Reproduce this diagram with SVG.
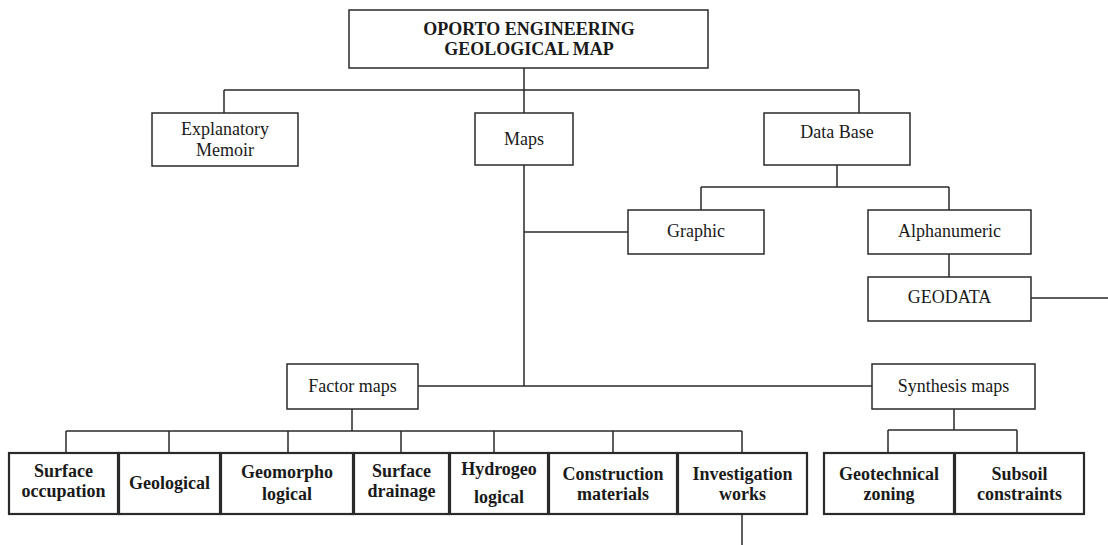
<svg xmlns="http://www.w3.org/2000/svg" width="1108" height="545" viewBox="0 0 1108 545">
  <style>
    .box { fill: #ffffff; stroke: #2a2a2a; stroke-width: 1.5; }
    .leaf { fill: #ffffff; stroke: #2a2a2a; stroke-width: 2.2; }
    .wire { fill: none; stroke: #2a2a2a; stroke-width: 1.5; }
    .lbl { font-family: "Liberation Serif", "Times New Roman", serif; font-size: 18px; fill: #1a1a1a; text-anchor: middle; }
    .bold { font-weight: bold; }
  </style>
  <rect width="1108" height="545" fill="#ffffff"/>

  <!-- connectors -->
  <g id="connectors" class="wire">
    <path d="M524 68 V90 M224 90 H859 M224 90 V113 M524 90 V113 M859 90 V113"/>
    <path d="M524 165 V386 M524 232 H628"/>
    <path d="M837 165 V187 M701 187 H949 M701 187 V210 M949 187 V210"/>
    <path d="M949 254 V277 M1031 298 H1108"/>
    <path d="M418 386 H872"/>
    <path d="M352 409 V431 M66 431 H742 M66 431 V453 M169 431 V453 M288 431 V453 M401 431 V453 M494 431 V453 M613 431 V453 M742 431 V453"/>
    <path d="M954 409 V430 M888 430 H1017 M888 430 V453 M1017 430 V453"/>
    <path d="M742 514 V545"/>
  </g>

  <g id="root">
    <rect class="box" x="349" y="10" width="359" height="58"/>
    <text class="lbl bold" x="529" y="35">OPORTO ENGINEERING</text>
    <text class="lbl bold" x="529" y="55">GEOLOGICAL MAP</text>
  </g>

  <g id="memoir">
    <rect class="box" x="152" y="113" width="146" height="53"/>
    <text class="lbl" x="225" y="135">Explanatory</text>
    <text class="lbl" x="225" y="156">Memoir</text>
  </g>

  <g id="maps">
    <rect class="box" x="475" y="113" width="98" height="52"/>
    <text class="lbl" x="524" y="145">Maps</text>
  </g>

  <g id="database">
    <rect class="box" x="764" y="113" width="146" height="52"/>
    <text class="lbl" x="837" y="138">Data Base</text>
  </g>

  <g id="graphic">
    <rect class="box" x="628" y="210" width="136" height="44"/>
    <text class="lbl" x="696" y="237">Graphic</text>
  </g>

  <g id="alphanumeric">
    <rect class="box" x="868" y="210" width="163" height="44"/>
    <text class="lbl" x="949.5" y="237">Alphanumeric</text>
  </g>

  <g id="geodata">
    <rect class="box" x="868" y="277" width="163" height="44"/>
    <text class="lbl" x="949.5" y="303">GEODATA</text>
  </g>

  <g id="factor-maps">
    <rect class="box" x="287" y="364" width="131" height="45"/>
    <text class="lbl" x="352.5" y="392">Factor maps</text>
  </g>

  <g id="synthesis-maps">
    <rect class="box" x="872" y="364" width="163" height="45"/>
    <text class="lbl" x="953.5" y="392">Synthesis maps</text>
  </g>

  <!-- factor map leaves -->
  <g id="surface-occupation">
    <rect class="leaf" x="9" y="453" width="109" height="61"/>
    <text class="lbl bold" x="63.5" y="477">Surface</text>
    <text class="lbl bold" x="63.5" y="497">occupation</text>
  </g>
  <g id="geological">
    <rect class="leaf" x="119" y="453" width="101" height="61"/>
    <text class="lbl bold" x="169.5" y="489">Geological</text>
  </g>
  <g id="geomorphological">
    <rect class="leaf" x="221" y="453" width="132" height="61"/>
    <text class="lbl bold" x="287" y="478">Geomorpho</text>
    <text class="lbl bold" x="287" y="500">logical</text>
  </g>
  <g id="surface-drainage">
    <rect class="leaf" x="354" y="453" width="95" height="61"/>
    <text class="lbl bold" x="401.5" y="477">Surface</text>
    <text class="lbl bold" x="401.5" y="497">drainage</text>
  </g>
  <g id="hydrogeological">
    <rect class="leaf" x="450" y="453" width="98" height="61"/>
    <text class="lbl bold" x="499" y="475">Hydrogeo</text>
    <text class="lbl bold" x="499" y="503">logical</text>
  </g>
  <g id="construction-materials">
    <rect class="leaf" x="549" y="453" width="128" height="61"/>
    <text class="lbl bold" x="613" y="480">Construction</text>
    <text class="lbl bold" x="613" y="500">materials</text>
  </g>
  <g id="investigation-works">
    <rect class="leaf" x="678" y="453" width="129" height="61"/>
    <text class="lbl bold" x="742.5" y="480">Investigation</text>
    <text class="lbl bold" x="742.5" y="500">works</text>
  </g>

  <!-- synthesis map leaves -->
  <g id="geotechnical-zoning">
    <rect class="leaf" x="824" y="453" width="130" height="61"/>
    <text class="lbl bold" x="889" y="480">Geotechnical</text>
    <text class="lbl bold" x="889" y="500">zoning</text>
  </g>
  <g id="subsoil-constraints">
    <rect class="leaf" x="955" y="453" width="129" height="61"/>
    <text class="lbl bold" x="1019.5" y="480">Subsoil</text>
    <text class="lbl bold" x="1019.5" y="500">constraints</text>
  </g>
</svg>
